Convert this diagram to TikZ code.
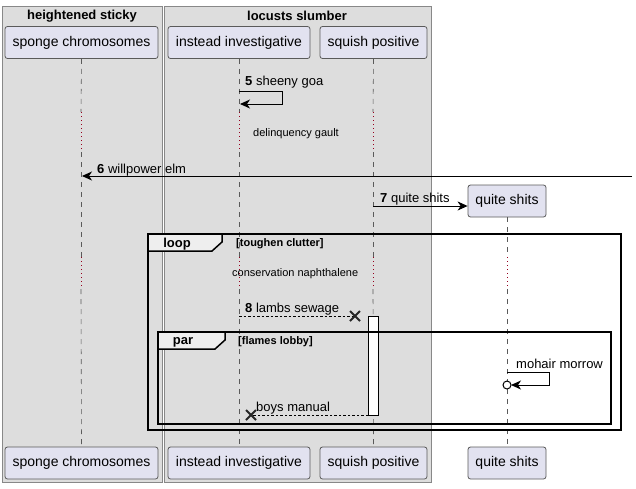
\documentclass[tikz,border=0pt]{standalone}
\usepackage{fontspec}
\setmainfont{Liberation Sans}
\usetikzlibrary{arrows.meta,calc}
\definecolor{grpfill}{RGB}{221,221,221}
\definecolor{grpline}{RGB}{136,136,136}
\definecolor{partfill}{RGB}{226,226,240}
\definecolor{partline}{RGB}{90,90,90}
\definecolor{lifeline}{RGB}{90,90,90}
\definecolor{delayc}{RGB}{150,0,30}
\definecolor{tabfill}{RGB}{238,238,238}
\begin{document}
\begin{tikzpicture}[x=1pt,y=-1pt,
  grpbox/.style={draw=grpline, fill=grpfill, line width=0.8pt},
  grptitle/.style={font=\fontsize{13}{15}\selectfont\bfseries, inner sep=0pt},
  part/.style={draw=partline, fill=partfill, line width=0.8pt, rounded corners=2.5pt,
    font=\fontsize{14}{16}\selectfont, minimum height=32pt, inner sep=0pt},
  life/.style={draw=lifeline, line width=0.6pt, dash pattern=on 5pt off 5pt},
  delayline/.style={draw=delayc, line width=0.8pt, dash pattern=on 1pt off 3pt},
  msg/.style={draw=black, line width=1pt, -{Stealth[length=10pt,width=9pt,inset=3pt]}},
  retmsg/.style={draw=black, line width=0.8pt, dash pattern=on 2.5pt off 2pt},
  lbl/.style={font=\fontsize{13}{15}\selectfont, inner sep=0pt, anchor=west, yshift=-2pt},
  note/.style={font=\fontsize{11}{13}\selectfont, inner sep=0pt, anchor=west, yshift=-1pt},
  frameln/.style={draw=black, line width=1.5pt},
  tabtxt/.style={font=\fontsize{13}{15}\selectfont\bfseries, inner sep=0pt, yshift=-1.5pt},
  cond/.style={font=\fontsize{11}{13}\selectfont\bfseries, inner sep=0pt, anchor=west, yshift=-1pt},
  crossln/.style={draw=black!85, line width=1.8pt}
]
\useasboundingbox (0,0) rectangle (636,488);
% group boxes
\path[grpbox] (2,6) rectangle (162,482);
\path[grpbox] (164,6) rectangle (431,482);
\node[grptitle] (g1) at (82,16) {heightened sticky};
\node[grptitle] (g2) at (297,16) {locusts slumber};

% participants top
\node[part, minimum width=153pt] (spT) at (81.5,42.5) {sponge chromosomes};
\node[part, minimum width=142pt] (inT) at (239,42.5) {instead investigative};
\node[part, minimum width=107pt] (sqT) at (373.5,42.5) {squish positive};
\node[part, minimum width=78pt] (quT) at (507,201) {quite shits};
% participants bottom
\node[part, minimum width=153pt] (spB) at (81.5,463) {sponge chromosomes};
\node[part, minimum width=142pt] (inB) at (239,463) {instead investigative};
\node[part, minimum width=107pt] (sqB) at (373.5,463) {squish positive};
\node[part, minimum width=78pt] (quB) at (507,463) {quite shits};

% lifeline coordinates
\foreach \n/\x in {sp/81,in/239,sq/373}{
  \coordinate (\n1) at (\x,112);
  \coordinate (\n2) at (\x,152);
  \coordinate (\n3) at (\x,257);
  \coordinate (\n4) at (\x,289);
}
\coordinate (qu3) at (507,257);
\coordinate (qu4) at (507,289);
\foreach \n in {sp,in,sq}{
  \path[life] (\n T.south) -- (\n1);
  \path[delayline] (\n1) -- (\n2);
  \path[life] (\n2) -- (\n3);
  \path[delayline] (\n3) -- (\n4);
  \path[life] (\n4) -- (\n B.north);
}
\path[life] (quT.south) -- (qu3);
\path[delayline] (qu3) -- (qu4);
\path[life] (qu4) -- (quB.north);

% message 5
\coordinate (m5a) at (239,91);
\coordinate (m5b) at (282,91);
\coordinate (m5c) at (282,104);
\coordinate (m5d) at (240,104);
\draw[msg] (m5a) -- (m5b) -- (m5c) -- (m5d);
\node[lbl] (l5) at (245,80) {\textbf{5} sheeny goa};

% delay 1
\node[note] (d1) at (253,133) {delinquency gault};

% message 6
\coordinate (m6a) at (632,176);
\coordinate (m6b) at (82,176);
\draw[msg] (m6a) -- (m6b);
\node[lbl] (l6) at (97,168) {\textbf{6} willpower elm};

% message 7
\coordinate (m7a) at (373,206);
\draw[msg] (m7a) -- (quT.west |- m7a);
\node[lbl] (l7) at (380,197) {\textbf{7} quite shits};

% loop frame
\path[frameln] (148,234) rectangle (621,430);
\path[frameln, fill=tabfill] (148,234) -- (222,234) -- (222,242) -- (212,251) -- (148,251) -- cycle;
\node[tabtxt] (looplbl) at (177,243) {loop};
\node[cond] (loopc) at (236,243) {[toughen clutter]};

% delay 2
\node[note] (d2) at (232,273) {conservation naphthalene};

% activation
\path[draw=black, line width=0.8pt, fill=white] (368,316) rectangle (378,415);
\coordinate (actTop) at (368,316);
\coordinate (actBot) at (368,415);

% message 8 (lost)
\coordinate (m8a) at (239,316);
\coordinate (m8x) at (355,316);
\draw[retmsg] (m8a) -- (m8x);
\path[crossln] ($(m8x)+(-5,-5)$) -- ($(m8x)+(5,5)$);
\path[crossln] ($(m8x)+(-5,5)$) -- ($(m8x)+(5,-5)$);
\node[lbl] (l8) at (245,307) {\textbf{8} lambs sewage};

% par frame
\path[frameln] (158,332) rectangle (611,424);
\path[frameln, fill=tabfill] (158,332) -- (225,332) -- (225,340) -- (215,349) -- (158,349) -- cycle;
\node[tabtxt] (parlbl) at (183,341) {par};
\node[cond] (parc) at (238,341) {[flames lobby]};

% mohair morrow
\coordinate (mha) at (507,372);
\coordinate (mhb) at (549,372);
\coordinate (mhc) at (549,385);
\coordinate (mhd) at (511,385);
\coordinate (mho) at (507,385);
\draw[msg] (mha) -- (mhb) -- (mhc) -- (mhd);
\draw[black, line width=1pt, fill=white] (mho) circle (4pt);
\node[lbl] (lmh) at (516,362) {mohair morrow};

% boys manual
\coordinate (bmx) at (251,415);
\draw[retmsg] (actBot) -- (bmx);
\path[crossln] ($(bmx)+(-5,-5)$) -- ($(bmx)+(5,5)$);
\path[crossln] ($(bmx)+(-5,5)$) -- ($(bmx)+(5,-5)$);
\node[lbl] (lbm) at (256,406) {boys manual};
\end{tikzpicture}
\end{document}
